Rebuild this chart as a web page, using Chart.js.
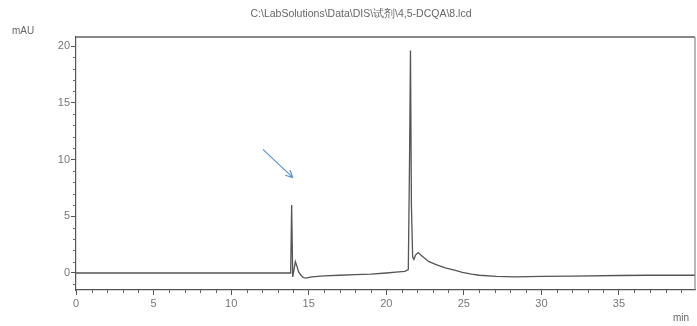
<!DOCTYPE html>
<html>
<head>
<meta charset="utf-8">
<script src="https://cdn.jsdelivr.net/npm/chart.js@4"></script>
<style>
  html, body { margin: 0; padding: 0; background: #fff; }
  #wrap { width: 697px; height: 326px; position: relative; }
</style>
</head>
<body>
<div id="wrap"><canvas id="myChart"></canvas></div>
<script>
// retention time (min) and detector signal (mAU)
const times  = [0, 5, 10, 13.0, 13.8, 13.84, 13.9, 13.97, 14.04, 14.14, 14.24, 14.35, 14.5, 14.65, 14.8,
                15.2, 16.0, 17.0, 18.0, 19.0, 20.0, 20.8, 21.2, 21.42, 21.5, 21.56, 21.62, 21.7, 21.78, 21.9, 22.05,
                22.3, 22.75, 23.3, 23.8, 24.4, 24.9, 25.5, 26.0, 27.1, 28.3, 30, 32, 35, 37, 40];
const signal = [0, 0, 0, 0, 0, 0.1, 6.0, -0.35, 0.2, 1.0, 0.6, 0.1, -0.2, -0.4, -0.45,
                -0.35, -0.25, -0.2, -0.15, -0.1, 0.0, 0.1, 0.15, 0.3, 10, 19.6, 6, 1.4, 1.2, 1.6, 1.8,
                1.5, 1.0, 0.7, 0.45, 0.25, 0.05, -0.1, -0.2, -0.3, -0.35, -0.3, -0.28, -0.22, -0.2, -0.2];

const xTicks = [0, 5, 10, 15, 20, 25, 30, 35];
const yTicks = [0, 5, 10, 15, 20];

// arrow pointing at the small peak: [start time, start mAU, end time, end mAU]
const arrow = [12.05, 10.9, 13.98, 8.4];

const titleText = 'C:\\LabSolutions\\Data\\DIS\\试剂\\4,5-DCQA\\8.lcd';

const extras = {
  id: 'extras',
  afterDraw(chart) {
    const c = chart.ctx;
    const a = chart.chartArea;
    const xs = chart.scales.x, ys = chart.scales.y;
    c.save();
    // minor ticks
    c.strokeStyle = '#666';
    c.lineWidth = 1;
    c.beginPath();
    for (let i = 1; i < 40; i++) {
      if (i % 5 === 0) continue;
      const px = Math.round(xs.getPixelForValue(i)) + 0.5;
      c.moveTo(px, a.bottom); c.lineTo(px, a.bottom + 3);
    }
    for (let i = -1; i <= 20; i++) {
      if (i % 5 === 0) continue;
      const py = Math.round(ys.getPixelForValue(i)) + 0.5;
      c.moveTo(a.left - 3, py); c.lineTo(a.left, py);
    }
    c.stroke();
    // top and right frame
    c.strokeStyle = '#888';
    c.lineWidth = 2;
    c.beginPath();
    c.moveTo(a.left, a.top); c.lineTo(a.right, a.top);
    c.stroke();
    c.lineWidth = 1.2;
    c.beginPath();
    c.moveTo(a.right, a.top); c.lineTo(a.right, a.bottom);
    c.stroke();
    // arrow
    const x1 = xs.getPixelForValue(arrow[0]), y1 = ys.getPixelForValue(arrow[1]);
    const x2 = xs.getPixelForValue(arrow[2]), y2 = ys.getPixelForValue(arrow[3]);
    const ang = Math.atan2(y2 - y1, x2 - x1);
    c.strokeStyle = '#5b93cf';
    c.lineWidth = 1.2;
    c.beginPath();
    c.moveTo(x1, y1); c.lineTo(x2, y2);
    c.moveTo(x2, y2); c.lineTo(x2 - 8 * Math.cos(ang - 0.45), y2 - 8 * Math.sin(ang - 0.45));
    c.moveTo(x2, y2); c.lineTo(x2 - 8 * Math.cos(ang + 0.45), y2 - 8 * Math.sin(ang + 0.45));
    c.stroke();
    // texts
    c.fillStyle = '#666';
    c.font = '10.5px "Liberation Sans", Arial, sans-serif';
    c.textAlign = 'center';
    c.textBaseline = 'middle';
    c.fillText(titleText, 361, 14);
    c.font = '10px "Liberation Sans", Arial, sans-serif';
    c.textAlign = 'left';
    c.fillText('mAU', 12, 31);
    c.fillText('min', 673, 318);
    c.restore();
  }
};

const ctx = document.getElementById('myChart');

new Chart(ctx, {
  type: 'line',
  data: {
    datasets: [{
      data: times.map((t, i) => ({ x: t, y: signal[i] })),
      borderColor: '#555',
      borderWidth: 1.3,
      pointRadius: 0,
      tension: 0,
      fill: false
    }]
  },
  options: {
    responsive: true,
    maintainAspectRatio: false,
    animation: false,
    layout: { padding: { top: 37, right: 2, left: 0, bottom: 0 } },
    plugins: {
      legend: { display: false },
      tooltip: { enabled: false },
      title: { display: false }
    },
    scales: {
      x: {
        type: 'linear',
        min: 0,
        max: 39.9,
        afterFit(s) { s.height = 36; },
        afterBuildTicks(s) { s.ticks = xTicks.map(v => ({ value: v })); },
        border: { display: true, color: '#555', width: 1.2 },
        grid: { drawOnChartArea: false, drawTicks: true, tickLength: 5, color: '#555' },
        ticks: {
          color: '#777',
          padding: 2,
          maxRotation: 0,
          font: { family: '"Liberation Sans", Arial, sans-serif', size: 11 }
        }
      },
      y: {
        min: -1.5,
        max: 20.8,
        afterFit(s) { s.width = 76; },
        afterBuildTicks(s) { s.ticks = yTicks.map(v => ({ value: v })); },
        border: { display: true, color: '#555', width: 1.2 },
        grid: { drawOnChartArea: false, drawTicks: true, tickLength: 5, color: '#555' },
        ticks: {
          color: '#777',
          padding: 1,
          font: { family: '"Liberation Sans", Arial, sans-serif', size: 11 }
        }
      }
    }
  },
  plugins: [extras]
});
</script>
</body>
</html>
